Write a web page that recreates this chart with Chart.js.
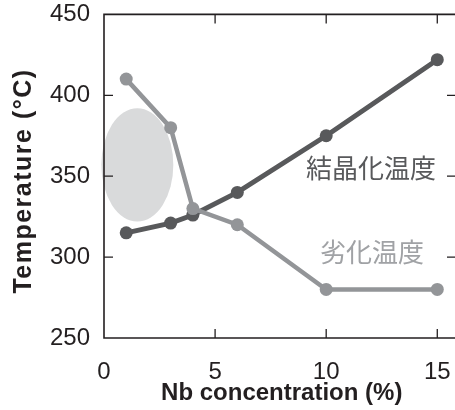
<!DOCTYPE html>
<html>
<head>
<meta charset="utf-8">
<script src="https://cdn.jsdelivr.net/npm/chart.js@4.4.1/dist/chart.umd.min.js"></script>
<style>
  html, body { margin: 0; padding: 0; background: #fff; overflow: hidden; }
  #clip { width: 455px; height: 410px; overflow: hidden; }
  #wrap { width: 466px; height: 410px; }
</style>
</head>
<body>
<div id="clip"><div id="wrap"><canvas id="tempChart"></canvas></div></div>
<script>
// Nb concentration (%) for each sample
const nbConc = [1, 3, 4, 6, 10, 15];
// 結晶化温度 (crystallization temperature)
const crystTemp = [315, 321, 326, 340, 375, 422];
// 劣化温度 (degradation temperature)
const degradTemp = [410, 380, 330, 320, 280, 280];

const xTicks = [0, 5, 10, 15];
const yTicks = [250, 300, 350, 400, 450];

// highlighted region (ellipse) in data units
const regionCenter = [1.5, 357];
const regionRadius = [1.62, 35];

const frameColor = '#231f20';
const yTitle = 'Temperature (°C)';

function toPoints(xs, ys) {
    return xs.map((x, i) => ({ x: x, y: ys[i] }));
}

// Ellipse behind the lines
const regionPlugin = {
    id: 'region',
    beforeDatasetsDraw(chart) {
        const { ctx, scales: { x, y } } = chart;
        const cx = x.getPixelForValue(regionCenter[0]);
        const cy = y.getPixelForValue(regionCenter[1]);
        const rx = Math.abs(x.getPixelForValue(regionCenter[0] + regionRadius[0]) - cx);
        const ry = Math.abs(y.getPixelForValue(regionCenter[1] + regionRadius[1]) - cy);
        ctx.save();
        ctx.fillStyle = '#d9dadb';
        ctx.beginPath();
        ctx.ellipse(cx, cy, rx, ry, 0, 0, Math.PI * 2);
        ctx.fill();
        ctx.restore();
    }
};

// Box frame with inward ticks, plus the spaced-out y title
const framePlugin = {
    id: 'frame',
    afterDraw(chart) {
        const { ctx, chartArea: a, scales: { x, y } } = chart;
        ctx.save();
        ctx.strokeStyle = frameColor;
        ctx.lineWidth = 1.6;
        ctx.beginPath();
        ctx.moveTo(a.right, a.top);
        ctx.lineTo(a.left, a.top);
        ctx.lineTo(a.left, a.bottom);
        ctx.lineTo(a.right, a.bottom);
        ctx.stroke();

        ctx.lineWidth = 1.3;
        ctx.beginPath();
        xTicks.slice(1).forEach(v => {
            const px = x.getPixelForValue(v);
            ctx.moveTo(px, a.bottom);
            ctx.lineTo(px, a.bottom - 9);
            ctx.moveTo(px, a.top);
            ctx.lineTo(px, a.top + 9);
        });
        yTicks.slice(1, -1).forEach(v => {
            const py = y.getPixelForValue(v);
            ctx.moveTo(a.left, py);
            ctx.lineTo(a.left + 9, py);
            ctx.moveTo(455, py);
            ctx.lineTo(455 - 8, py);
        });
        ctx.stroke();

        // y axis title
        ctx.translate(24, 181);
        ctx.rotate(-Math.PI / 2);
        ctx.font = 'bold 25px "Liberation Sans", Arial, sans-serif';
        ctx.letterSpacing = '1.5px';
        ctx.fillStyle = frameColor;
        ctx.textAlign = 'center';
        ctx.textBaseline = 'middle';
        ctx.fillText(yTitle, 0, 0);
        ctx.restore();
    }
};

// Series names written beside the lines
const seriesLabelPlugin = {
    id: 'seriesLabels',
    afterDatasetsDraw(chart) {
        const { ctx } = chart;
        ctx.save();
        ctx.font = '26px "Noto Sans CJK JP"';
        ctx.textAlign = 'center';
        ctx.textBaseline = 'middle';
        ctx.fillStyle = '#58595b';
        ctx.fillText('結晶化温度', 371, 168);
        ctx.fillStyle = '#a0a2a5';
        ctx.fillText('劣化温度', 372, 252);
        ctx.restore();
    }
};

function initTempChart() {
    const ctx = document.getElementById('tempChart').getContext('2d');
    new Chart(ctx, {
        type: 'scatter',
        data: {
            datasets: [{
                label: '劣化温度',
                data: toPoints(nbConc, degradTemp),
                showLine: true,
                borderColor: '#939598',
                backgroundColor: '#939598',
                borderWidth: 4.5,
                pointRadius: 6.5,
                pointBorderWidth: 0
            }, {
                label: '結晶化温度',
                data: toPoints(nbConc, crystTemp),
                showLine: true,
                borderColor: '#58595b',
                backgroundColor: '#58595b',
                borderWidth: 5,
                pointRadius: 6.5,
                pointBorderWidth: 0
            }]
        },
        options: {
            responsive: true,
            maintainAspectRatio: false,
            animation: false,
            layout: { padding: { top: 0, right: 0, left: 0, bottom: 0 } },
            plugins: {
                legend: { display: false },
                tooltip: { enabled: false }
            },
            scales: {
                x: {
                    type: 'linear',
                    min: 0,
                    max: 16,
                    grid: { display: false },
                    border: { display: false },
                    afterBuildTicks: axis => { axis.ticks = xTicks.map(v => ({ value: v })); },
                    afterFit: axis => { axis.height = 72; },
                    ticks: {
                        color: frameColor,
                        padding: 12,
                        maxRotation: 0,
                        font: { family: '"Liberation Sans", Arial, sans-serif', size: 24 }
                    },
                    title: {
                        display: true,
                        text: 'Nb concentration (%)',
                        color: frameColor,
                        padding: { top: 0, bottom: 2 },
                        font: { family: '"Liberation Sans", Arial, sans-serif', size: 24, weight: 'bold' }
                    }
                },
                y: {
                    min: 250,
                    max: 450,
                    grid: { display: false },
                    border: { display: false },
                    afterBuildTicks: axis => { axis.ticks = yTicks.map(v => ({ value: v })); },
                    afterFit: axis => { axis.width = 104; },
                    ticks: {
                        color: frameColor,
                        padding: 6,
                        font: { family: '"Liberation Sans", Arial, sans-serif', size: 24, lineHeight: 0.7 }
                    }
                }
            }
        },
        plugins: [regionPlugin, framePlugin, seriesLabelPlugin]
    });
}

document.addEventListener('DOMContentLoaded', function() {
    initTempChart();
});
</script>
</body>
</html>
